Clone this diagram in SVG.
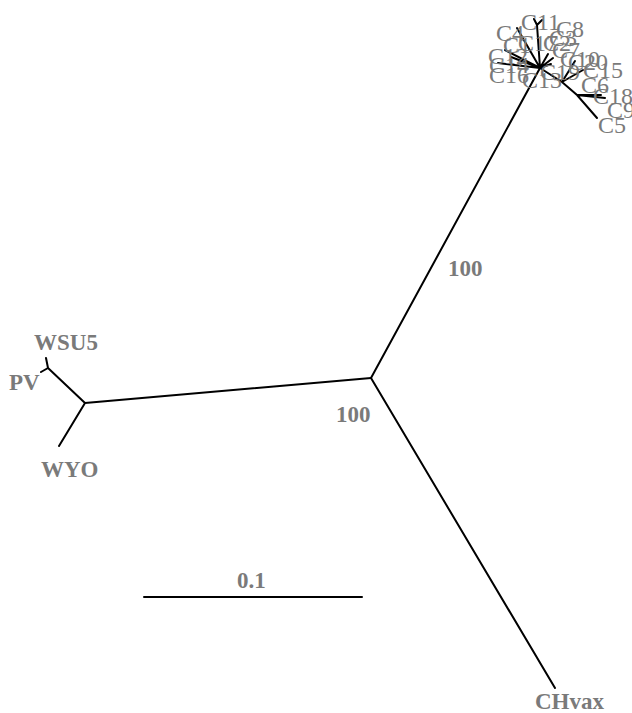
<svg xmlns="http://www.w3.org/2000/svg" width="632" height="713" viewBox="0 0 632 713">
<style>
.e{stroke:#000;stroke-width:2;fill:none;stroke-linecap:round}
.b{font-family:"Liberation Serif","Times New Roman",serif;font-weight:bold;font-size:23px;fill:#7a7a7a}
.c{font-family:"Liberation Serif","Times New Roman",serif;font-size:24px;fill:#7a7a7a}
</style>
<rect width="632" height="713" fill="#fff"/>
<g id="edges" class="e">
<path d="M371,378 L85,403 M85,403 L48,368 M48,368 L46,358 M48,368 L41,372 M85,403 L59,446"/>
<path d="M371,378 L555,688"/>
<path d="M371,378 L540,68"/>
<path d="M540,68 L537,25 M537,25 L534,19 M537,25 L542,20 M540,68 L517,28 M540,68 L505,50 M540,68 L511,57 M540,68 L498,63 M540,68 L553,58 M540,68 L551,64 M540,68 L548,54"/>
<path d="M540,68 L562,82 L577,95 L597,118 M562,82 L583,70 M562,82 L575,61 M577,95 L605,98 M577,95 L601,95"/>
<path d="M144,597 L362,597"/>
</g>
<g id="n_WSU5"><text class="b" x="34" y="350">WSU5</text></g>
<g id="n_PV"><text class="b" x="9" y="390">PV</text></g>
<g id="n_WYO"><text class="b" x="41" y="477">WYO</text></g>
<g id="n_CHvax"><text class="b" x="535" y="709">CHvax</text></g>
<g id="bootstrap"><text class="b" x="448" y="276">100</text><text class="b" x="336" y="422">100</text></g>
<g id="scale"><text class="b" x="237" y="588">0.1</text></g>
<g id="cluster" class="c">
<text x="521" y="30">C11</text>
<text x="556" y="37">C8</text>
<text x="496" y="41">C4</text>
<text x="503" y="53">C1</text>
<text x="518" y="51">C17</text>
<text x="543" y="51">C2</text>
<text x="549" y="46">C3</text>
<text x="552" y="58">C7</text>
<text x="488" y="64">C12</text>
<text x="489" y="73">C14</text>
<text x="489" y="83">C16</text>
<text x="522" y="88">C13</text>
<text x="540" y="80">C19</text>
<text x="560" y="67">C10</text>
<text x="568" y="70">C20</text>
<text x="583" y="78">C15</text>
<text x="581" y="93">C6</text>
<text x="593" y="104">C18</text>
<text x="607" y="118">C9</text>
<text x="598" y="133">C5</text>
</g>
</svg>
